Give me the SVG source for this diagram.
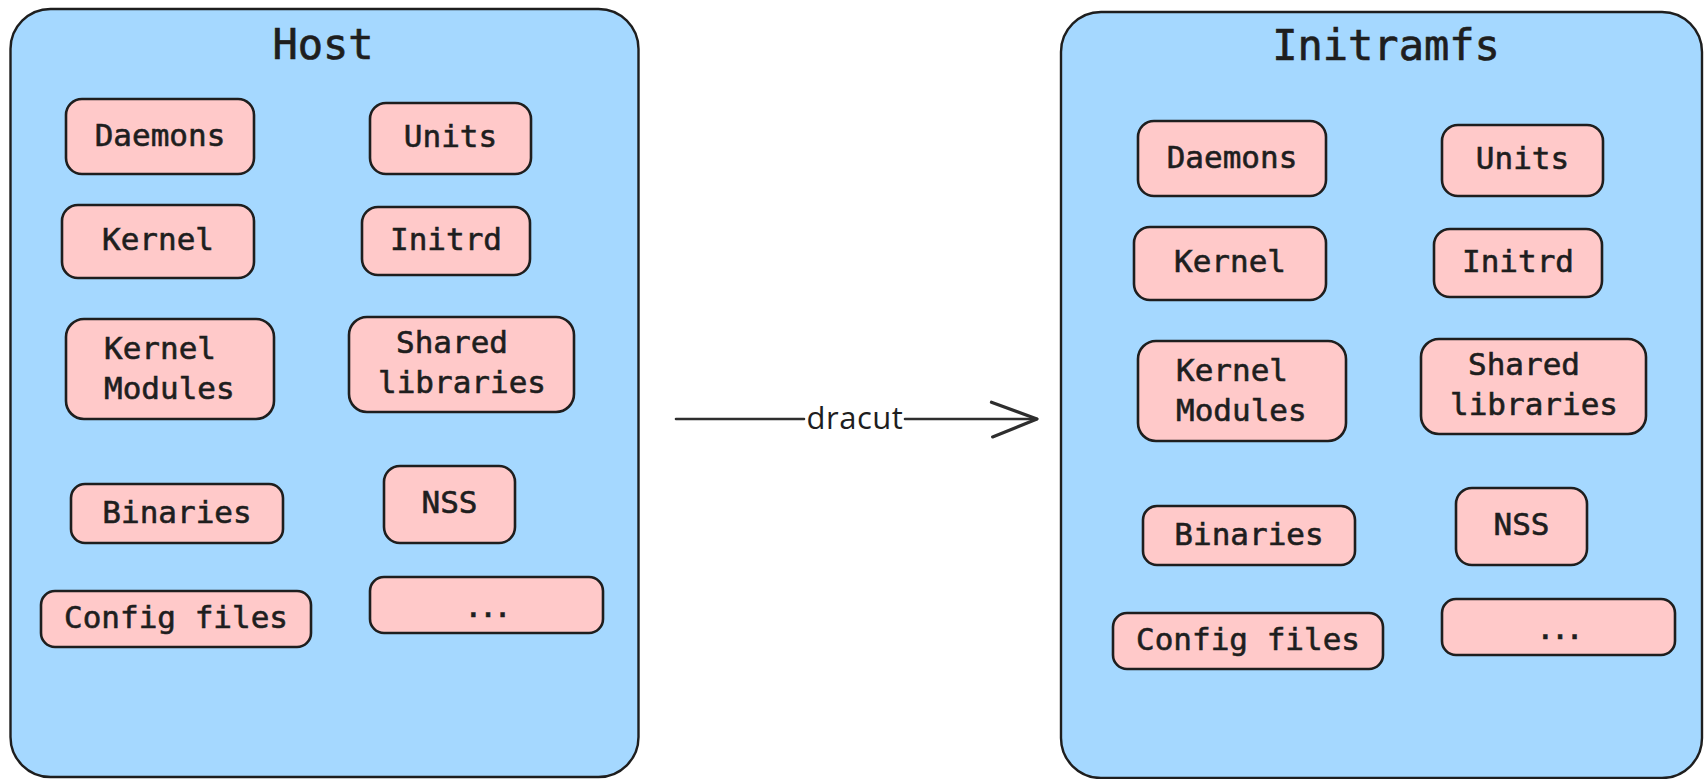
<svg xmlns="http://www.w3.org/2000/svg" width="1704" height="779" viewBox="0 0 1704 779">
<style>
.container{fill:#a5d8ff;stroke:#1e1e1e;stroke-width:2.4}
.node rect{fill:#ffc9c9;stroke:#1e1e1e;stroke-width:2.6}
.title{font-family:"DejaVu Sans Mono","Liberation Mono",monospace;font-size:42px;fill:#1e1e1e;stroke:#1e1e1e;stroke-width:0.7;text-anchor:middle}
.lbl{font-family:"DejaVu Sans Mono","Liberation Mono",monospace;font-size:31px;fill:#1e1e1e;stroke:#1e1e1e;stroke-width:0.6;text-anchor:middle}
.lbl.left{text-anchor:start}
.conn{stroke:#2e2e2e;stroke-width:2.6;fill:none;stroke-linecap:round;stroke-linejoin:round}
.edge-label{font-family:"Open Sans","DejaVu Sans",sans-serif;font-size:31px;fill:#1e1e1e;text-anchor:middle}
</style>
<defs>
<marker id="chev" markerUnits="userSpaceOnUse" markerWidth="60" markerHeight="60" refX="0" refY="0" viewBox="-45 -25 50 50" orient="auto" overflow="visible">
<path d="M -38 -14 L 0 0 L -37 15" fill="none" stroke="#2e2e2e" stroke-width="2.6" stroke-linecap="round" stroke-linejoin="round"/>
</marker>
</defs>
<rect width="1704" height="779" fill="#ffffff"/>

<g id="host">
<rect class="container" x="10.5" y="9" width="628" height="768" rx="40" ry="40"/>
<text class="title" x="323" y="59">Host</text>
</g>

<g id="host-items">
<g id="host-daemons" class="node"><rect x="66" y="99" width="188" height="75" rx="16"/><text class="lbl" x="160" y="146">Daemons</text></g>
<g id="host-units" class="node"><rect x="370" y="103" width="161" height="71" rx="16"/><text class="lbl" x="450.5" y="147">Units</text></g>
<g id="host-kernel" class="node"><rect x="62" y="205" width="192" height="73" rx="16"/><text class="lbl" x="158" y="250">Kernel</text></g>
<g id="host-initrd" class="node"><rect x="362" y="207" width="168" height="68" rx="16"/><text class="lbl" x="446" y="250">Initrd</text></g>
<g id="host-kernel-modules" class="node"><rect x="66" y="319" width="208" height="100" rx="18"/><text class="lbl left" x="104" y="359">Kernel</text><text class="lbl left" x="104" y="399">Modules</text></g>
<g id="host-shared-libraries" class="node"><rect x="349" y="317" width="225" height="95" rx="18"/><text class="lbl" x="452" y="353">Shared</text><text class="lbl" x="462" y="393">libraries</text></g>
<g id="host-binaries" class="node"><rect x="71" y="484" width="212" height="59" rx="14"/><text class="lbl" x="177" y="523">Binaries</text></g>
<g id="host-nss" class="node"><rect x="384" y="466" width="131" height="77" rx="16"/><text class="lbl" x="449.5" y="513">NSS</text></g>
<g id="host-config-files" class="node"><rect x="41" y="591" width="270" height="56" rx="14"/><text class="lbl" x="176" y="628">Config files</text></g>
<g id="host-more" class="node"><rect x="370" y="577" width="233" height="56" rx="14"/><text class="lbl" x="486" y="617" letter-spacing="-4">...</text></g>
</g>

<g id="initramfs">
<rect class="container" x="1061" y="12" width="641" height="766" rx="40" ry="40"/>
<text class="title" x="1386" y="60">Initramfs</text>
</g>

<g id="initramfs-items" transform="translate(1072,22)">
<g id="init-daemons" class="node"><rect x="66" y="99" width="188" height="75" rx="16"/><text class="lbl" x="160" y="146">Daemons</text></g>
<g id="init-units" class="node"><rect x="370" y="103" width="161" height="71" rx="16"/><text class="lbl" x="450.5" y="147">Units</text></g>
<g id="init-kernel" class="node"><rect x="62" y="205" width="192" height="73" rx="16"/><text class="lbl" x="158" y="250">Kernel</text></g>
<g id="init-initrd" class="node"><rect x="362" y="207" width="168" height="68" rx="16"/><text class="lbl" x="446" y="250">Initrd</text></g>
<g id="init-kernel-modules" class="node"><rect x="66" y="319" width="208" height="100" rx="18"/><text class="lbl left" x="104" y="359">Kernel</text><text class="lbl left" x="104" y="399">Modules</text></g>
<g id="init-shared-libraries" class="node"><rect x="349" y="317" width="225" height="95" rx="18"/><text class="lbl" x="452" y="353">Shared</text><text class="lbl" x="462" y="393">libraries</text></g>
<g id="init-binaries" class="node"><rect x="71" y="484" width="212" height="59" rx="14"/><text class="lbl" x="177" y="523">Binaries</text></g>
<g id="init-nss" class="node"><rect x="384" y="466" width="131" height="77" rx="16"/><text class="lbl" x="449.5" y="513">NSS</text></g>
<g id="init-config-files" class="node"><rect x="41" y="591" width="270" height="56" rx="14"/><text class="lbl" x="176" y="628">Config files</text></g>
<g id="init-more" class="node"><rect x="370" y="577" width="233" height="56" rx="14"/><text class="lbl" x="486" y="617" letter-spacing="-4">...</text></g>
</g>

<g id="connectors">
<path class="conn" d="M 676 419 L 804 419 M 905 419 L 1037 419" marker-end="url(#chev)"/>
<text class="edge-label" x="855" y="429" font-size="30" letter-spacing="0.5">dracut</text>
</g>
</svg>
